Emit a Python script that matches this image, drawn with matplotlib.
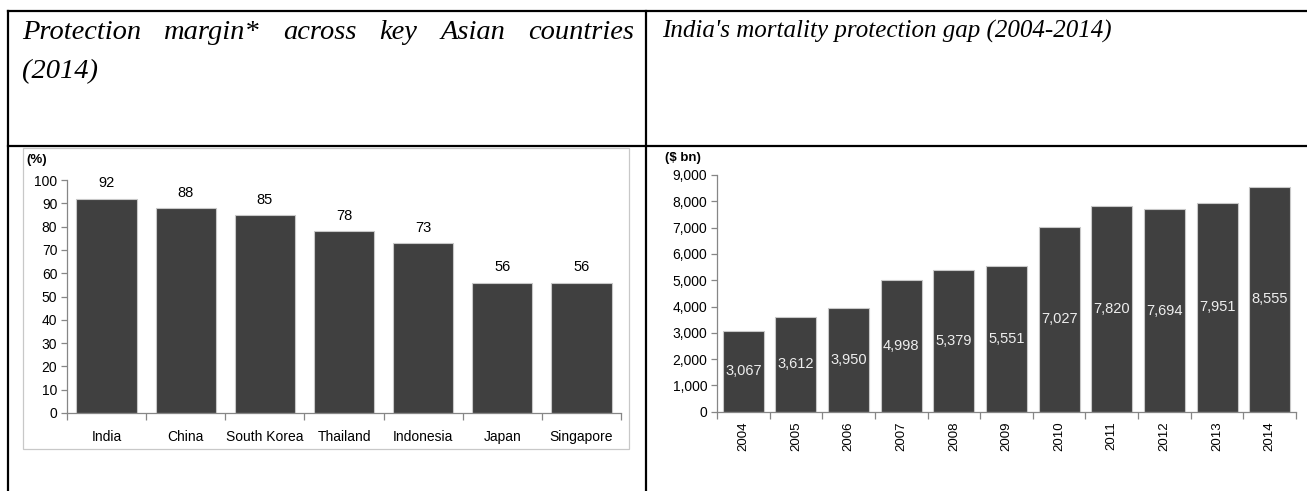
import matplotlib
matplotlib.use("Agg")
import matplotlib.pyplot as plt
from matplotlib.lines import Line2D
from matplotlib.patches import Rectangle
from matplotlib.ticker import FuncFormatter, FixedLocator
from matplotlib import font_manager
import numpy as np

# data
countries = ["India", "China", "South Korea", "Thailand", "Indonesia", "Japan", "Singapore"]
margin_pct = [92, 88, 85, 78, 73, 56, 56]

years = ["2004", "2005", "2006", "2007", "2008", "2009", "2010", "2011", "2012", "2013", "2014"]
gap_bn = [3067, 3612, 3950, 4998, 5379, 5551, 7027, 7820, 7694, 7951, 8555]

title_left_l1 = "Protection margin* across key Asian countries"
title_left_l2 = "(2014)"
title_right = "India's mortality protection gap (2004-2014)"

W, H = 1307, 491
fig = plt.figure(figsize=(W / 100, H / 100), dpi=100)


def fx(px):
    return px / W


def fy(py):
    return 1 - py / H


installed = {f.name for f in font_manager.fontManager.ttflist}
narrow = "Liberation Sans Narrow" if "Liberation Sans Narrow" in installed else "Liberation Sans"
sans = "Liberation Sans"
serif = "Liberation Serif"

bar_col = "#404040"
edge_col = "#c8c8c8"
axis_col = "#868686"

# table grid lines
lw_tab = 1.6
for xs, ys in [([8, W], [11, 11]), ([8, W], [146, 146]),
               ([8, 8], [11, H]), ([646, 646], [11, H])]:
    fig.add_artist(Line2D([fx(x) for x in xs], [fy(y) for y in ys],
                          color="black", lw=lw_tab, transform=fig.transFigure))

# headers (left one justified)
renderer = fig.canvas.get_renderer()
hdr_kw = dict(family=serif, style="italic", color="black",
              transform=fig.transFigure, va="baseline", ha="left")
words = title_left_l1.split()
texts = [fig.text(0, fy(39), w, fontsize=20.5, **hdr_kw) for w in words]
widths = [t.get_window_extent(renderer).width for t in texts]
x_start, x_end = 22, 634
gap = (x_end - x_start - sum(widths)) / (len(words) - 1)
x = x_start
for t, w in zip(texts, widths):
    t.set_x(fx(x))
    x += w + gap
fig.text(fx(x_start), fy(78), title_left_l2, fontsize=20.5, **hdr_kw)
fig.text(fx(662), fy(38), title_right, fontsize=18, **hdr_kw)

# left chart frame
fig.add_artist(Rectangle((fx(23), fy(449)), fx(629) - fx(23), fy(148) - fy(449),
                         transform=fig.transFigure, fill=False,
                         edgecolor="#c8c8c8", lw=0.9))


def style_axes(ax, n, font):
    ax.set_xlim(-0.5, n - 0.5)
    for s in ["top", "right"]:
        ax.spines[s].set_visible(False)
    for s in ["left", "bottom"]:
        ax.spines[s].set_color(axis_col)
        ax.spines[s].set_linewidth(0.9)
    ax.tick_params(axis="y", direction="out", length=4, width=0.9, color=axis_col,
                   labelsize=10, labelcolor="black", pad=3)
    ax.tick_params(axis="x", which="major", length=0)
    ax.xaxis.set_minor_locator(FixedLocator(np.arange(-0.5, n, 1)))
    ax.tick_params(axis="x", which="minor", direction="out", length=5, width=0.9,
                   color=axis_col)
    for lab in ax.get_yticklabels():
        lab.set_family(font)
    ax.set_facecolor("none")


# left: protection margin
ax1 = fig.add_axes([fx(67), fy(413), fx(621) - fx(67), fy(180) - fy(413)])
x1 = np.arange(len(countries))
ax1.bar(x1, margin_pct, width=0.76, color=bar_col, edgecolor=edge_col, linewidth=0.8)
ax1.set_ylim(0, 100)
ax1.set_yticks(np.arange(0, 101, 10))
ax1.set_xticks(x1)
ax1.set_xticklabels(countries, fontsize=10, family=narrow)
ax1.tick_params(axis="x", which="major", pad=12)
style_axes(ax1, len(countries), narrow)
for xi, v in zip(x1, margin_pct):
    ax1.annotate(str(v), (xi, v), xytext=(0, 6), textcoords="offset points",
                 ha="center", va="bottom", fontsize=10.5, family=narrow)
fig.text(fx(26), fy(160), "(%)", fontsize=9.5, family=narrow, fontweight="bold",
         ha="left", va="center")

# right: protection gap
ax2 = fig.add_axes([fx(717), fy(411.8), fx(1296) - fx(717), fy(175) - fy(411.8)])
x2 = np.arange(len(years))
ax2.bar(x2, gap_bn, width=0.78, color=bar_col, edgecolor=edge_col, linewidth=0.8)
ax2.set_ylim(0, 9000)
ax2.set_yticks(np.arange(0, 9001, 1000))
ax2.yaxis.set_major_formatter(FuncFormatter(lambda v, p: f"{int(v):,}"))
ax2.set_xticks(x2)
ax2.set_xticklabels(years, rotation=90, fontsize=9.5, family=sans)
ax2.tick_params(axis="x", which="major", pad=7)
style_axes(ax2, len(years), narrow)
for xi, v in zip(x2, gap_bn):
    ax2.text(xi, v / 2, f"{v:,}", ha="center", va="center", fontsize=10.5,
             family=narrow, color="#eeeeee")
fig.text(fx(665), fy(158), "($ bn)", fontsize=9.5, family=narrow, fontweight="bold",
         ha="left", va="center")

fig.savefig("out.png", dpi=100)
